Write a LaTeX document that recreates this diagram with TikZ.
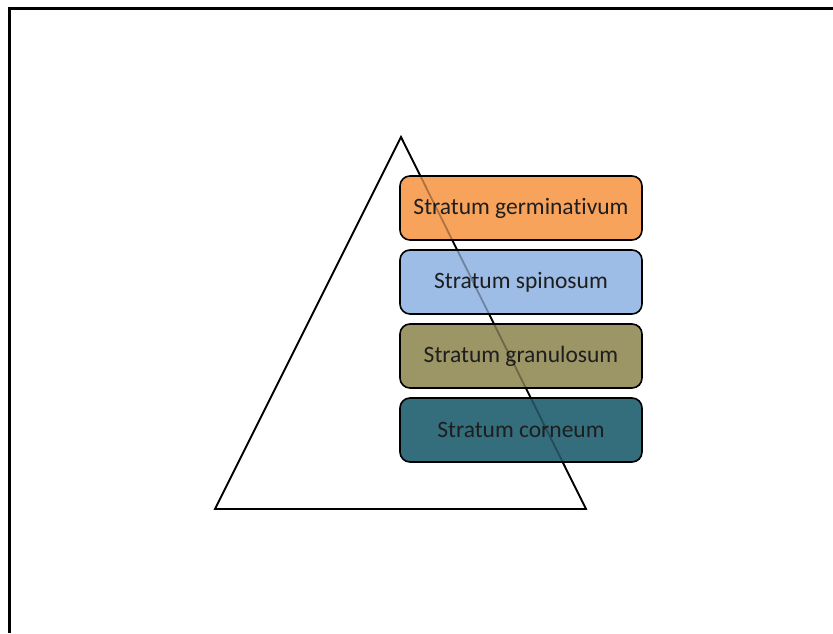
\documentclass[tikz,border=0pt]{standalone}
\usepackage{fontspec}
\setmainfont{Carlito}[Ligatures={NoCommon}]
\usetikzlibrary{positioning}
\definecolor{darktext}{HTML}{1E1E1E}
\definecolor{layerorange}{HTML}{F8A35C}
\definecolor{layerblue}{HTML}{9DBCE6}
\definecolor{layerolive}{HTML}{9C9565}
\definecolor{layerteal}{HTML}{346D7C}
\tikzset{
  layer/.style={draw=black, line width=1.6pt, rounded corners=10pt,
    minimum width=242pt, minimum height=64pt, inner sep=0pt,
    text=darktext, font=\fontsize{23.5}{26}\selectfont}
}
\begin{document}
\begin{tikzpicture}[x=1pt, y=1pt]
  \useasboundingbox (0,0) rectangle (833,633);
  % frame
  \draw[line width=3pt] (9,0) -- (9,624) -- (833,624);
  % pyramid
  \coordinate (apex) at (401,496);
  \coordinate (baseL) at (215,124);
  \coordinate (baseR) at (586,124);
  \draw[line width=1.8pt, line join=miter] (apex) -- (baseL) -- (baseR) -- cycle;
  % layers
  \node[layer, fill=layerorange] (germ) at (521,425) {Stratum germinativum};
  \node[layer, fill=layerblue, below=8.4pt of germ] (spin) {Stratum spinosum};
  \node[layer, fill=layerolive, below=8.4pt of spin] (gran) {Stratum granulosum};
  \node[layer, fill=layerteal, below=8.4pt of gran] (corn) {Stratum corneum};
  % pyramid seen through the layers
  \draw[line width=1.8pt, draw opacity=0.3] (apex) -- (baseR);
\end{tikzpicture}
\end{document}
